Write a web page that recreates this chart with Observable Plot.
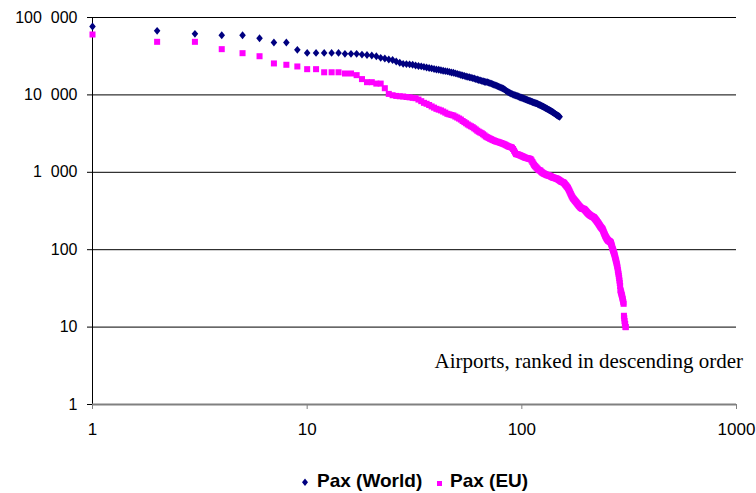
<!DOCTYPE html>
<html>
<head>
<meta charset="utf-8">
<script src="https://cdn.jsdelivr.net/npm/d3@7"></script>
<script src="https://cdn.jsdelivr.net/npm/@observablehq/plot@0.6"></script>
<style>
  html, body { margin: 0; padding: 0; background: #fff; }
  #wrap { position: relative; width: 756px; height: 493px; overflow: hidden; font-family: "Liberation Sans", Arial, sans-serif; }
  #chart svg { display: block; }
  .lg-text { position: absolute; top: 470px; font-weight: bold; font-size: 19px; line-height: 22px; color: #000; white-space: nowrap; }
  .lg-mark { position: absolute; }
</style>
</head>
<body>
<div id="wrap">
  <div id="chart"></div>
  <svg class="lg-mark" style="left:301px;top:478px" width="8" height="9"><polygon points="4,0.5 7,4.3 4,8.1 1,4.3" fill="#000080"/></svg>
  <div class="lg-text" style="left:317px">Pax (World)</div>
  <div class="lg-mark" style="left:437px;top:481px;width:5px;height:5px;background:#FF00FF"></div>
  <div class="lg-text" style="left:450px">Pax (EU)</div>
</div>
<script>
// ---- Data (passengers, thousands; airports ranked in descending order) ----
const seriesNames = ["Pax (World)", "Pax (EU)"];

const paxWorld = [
  76500, 67300, 61500, 59000, 59000, 54000, 47500, 47500, 38200, 34900,
  34900, 34900, 34900, 34900, 33900, 33900, 33900, 33200, 32800, 32300,
  31600, 30100, 29500, 28700, 28200, 27000, 26000, 25200, 25000, 24800,
  24500, 24000, 23600, 23400, 23000, 22600, 22300, 22000, 21600, 21300,
  21100, 20800, 20500, 20300, 20100, 19800, 19500, 19300, 19000, 18700,
  18400, 18100, 17800, 17600, 17300, 17100, 16900, 16700, 16500, 16300,
  16000, 15800, 15600, 15400, 15200, 15000, 14800, 14700, 14600, 14400,
  14200, 14000, 13800, 13600, 13400, 13200, 13000, 12800, 12600, 12400,
  12200, 12000, 11800, 11500, 11200, 11000, 10800, 10600, 10400, 10300,
  10100, 10000, 9900, 9800, 9700, 9600, 9450, 9340, 9250, 9200,
  9100, 9000, 8900, 8800, 8700, 8600, 8500, 8420, 8350, 8300,
  8200, 8100, 8000, 7950, 7880, 7820, 7760, 7700, 7580, 7500,
  7420, 7340, 7260, 7180, 7100, 7020, 6940, 6860, 6780, 6700,
  6620, 6540, 6460, 6380, 6300, 6250, 6170, 6090, 6010, 5930,
  5850, 5770, 5690, 5610, 5530, 5460, 5400, 5340, 5280, 5220
];

const paxEU = [
  60300, 48500, 48500, 39000, 34600, 31600, 25500, 24500, 23300, 21500,
  21500, 19600, 19600, 19600, 18900, 18900, 18000, 16000, 14600, 14600,
  14000, 14000, 12200, 10300, 9900, 9700, 9600, 9530, 9400, 9300,
  9170, 9070, 8700, 8300, 7900, 7680, 7400, 7100, 6850, 6610,
  6450, 6300, 6100, 5900, 5700, 5600, 5500, 5420, 5250, 5100,
  4950, 4800, 4600, 4450, 4300, 4150, 4030, 3930, 3830, 3700,
  3580, 3450, 3350, 3270, 3200, 3100, 3000, 2900, 2840, 2780,
  2720, 2680, 2620, 2580, 2540, 2500, 2480, 2450, 2420, 2390,
  2360, 2330, 2300, 2260, 2220, 2180, 2150, 2130, 2110, 2080,
  2000, 1900, 1800, 1720, 1710, 1700, 1680, 1660, 1640, 1620,
  1600, 1580, 1560, 1540, 1530, 1520, 1510, 1500, 1490, 1470,
  1420, 1360, 1300, 1250, 1210, 1180, 1150, 1120, 1090, 1070,
  1060, 1050, 1020, 1000, 985, 970, 960, 950, 940, 930,
  920, 915, 910, 905, 900, 890, 880, 870, 860, 855,
  850, 845, 840, 835, 828, 824, 815, 805, 795, 785,
  775, 765, 755, 750, 746, 740, 730, 715, 700, 685,
  670, 655, 643, 625, 605, 585, 565, 545, 525, 505,
  490, 475, 462, 454, 445, 436, 428, 420, 412, 404,
  396, 388, 381, 374, 367, 361, 355, 350, 346, 342,
  340, 338, 337, 337, 334, 330, 325, 320, 315, 310,
  305, 300, 296, 292, 288, 285, 282, 279, 276, 274,
  272, 270, 268, 266, 264, 263, 260, 256, 252, 248,
  244, 240, 236, 232, 228, 224, 220, 216, 212, 208,
  204, 200, 197, 194, 191, 188, 186, 182, 177, 172,
  167, 162, 158, 154, 150, 147, 144, 141, 138, 136,
  134, 132, 131, 130, 129, 128, 127, 126, 125, 122,
  118, 114, 110, 106, 102, 99, 96, 93, 90, 87,
  84, 80, 77, 74, 71, 68, 65, 62, 59, 55,
  52, 49, 46, 43, 40, 37, 34, 30, 29, 28,
  27, 26, 25, 24, 23, 22, 21, 20, 14, 13,
  12, 11, 11, 10, 10
];

const xTicks = [1, 10, 100, 1000];
const xTickLabels = ["1", "10", "100", "1000"];
const yTicks = [1, 10, 100, 1000, 10000, 100000];
const yTickLabels = ["1", "10", "100", "1\u2007000", "10\u2007000", "100\u2007000"];
const annotation = "Airports, ranked in descending order";

// ---- Build tables ----
const worldRows = paxWorld.map((v, i) => ({rank: i + 1, pax: v, series: seriesNames[0]}));
const euRows = paxEU.map((v, i) => ({rank: i + 1, pax: v, series: seriesNames[1]}));

const diamond = {
  draw(context, size) {
    const s = Math.sqrt(size);
    const w = s * 0.5, h = s * 0.6;
    context.moveTo(0, -h);
    context.lineTo(w, 0);
    context.lineTo(0, h);
    context.lineTo(-w, 0);
    context.closePath();
  }
};

const chart = Plot.plot({
  width: 756,
  height: 450,
  marginLeft: 92,
  marginRight: 20,
  marginTop: 17,
  marginBottom: 46,
  style: {fontFamily: "'Liberation Sans', Arial, sans-serif", color: "#000", background: "#fff", overflow: "visible"},
  x: {type: "log", domain: [1, 1000], axis: null},
  y: {type: "log", domain: [1, 100000], axis: null},
  marks: [
    Plot.ruleY(yTicks, {stroke: "#000", strokeWidth: 1}),
    Plot.ruleX([1], {stroke: "#000", strokeWidth: 1}),
    Plot.ruleY([1], {stroke: "#808080", strokeWidth: 2}),
    Plot.axisY(yTicks, {
      label: null, tickSize: 5, tickPadding: 10, stroke: "#000", color: "#000",
      fontSize: 16, tickFormat: d => yTickLabels[yTicks.indexOf(d)]
    }),
    Plot.axisX(xTicks, {
      label: null, tickSize: 5, tickPadding: 13, stroke: "#808080", color: "#000",
      fontSize: 17, tickFormat: d => xTickLabels[xTicks.indexOf(d)]
    }),
    Plot.dot(worldRows, {x: "rank", y: "pax", symbol: diamond, r: 3.7, fill: "#000080", stroke: null}),
    Plot.dot(euRows, {x: "rank", y: "pax", symbol: "square", r: 3.4, fill: "#FF00FF", stroke: null}),
    Plot.text([annotation], {
      frameAnchor: "bottom-right", textAnchor: "end", lineAnchor: "middle",
      dx: 6.5, dy: -43, fontSize: 21, fontFamily: "'Liberation Serif', 'Times New Roman', serif", fill: "#000"
    })
  ]
});
document.getElementById("chart").appendChild(chart);
</script>
</body>
</html>
